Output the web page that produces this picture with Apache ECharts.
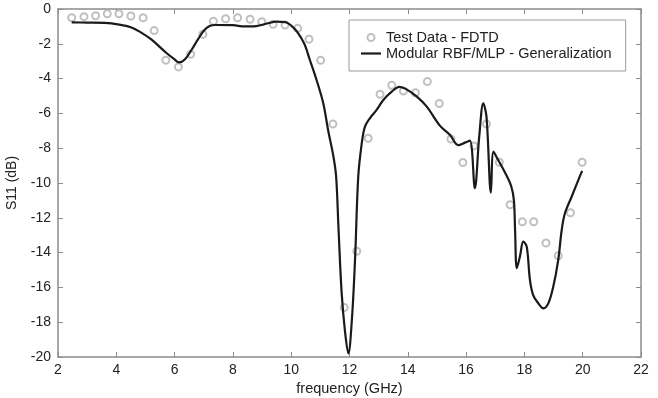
<!DOCTYPE html>
<html>
<head>
<meta charset="utf-8">
<script src="https://cdn.jsdelivr.net/npm/echarts@6/dist/echarts.min.js"></script>
<style>
html,body{margin:0;padding:0;background:#fff;}
#chart{width:658px;height:398px;}
</style>
</head>
<body>
<div id="chart"></div>
<script>
// Test data (FDTD): frequency in GHz and S11 in dB
const testFreq = [2.47,2.89,3.29,3.69,4.09,4.50,4.92,5.30,5.70,6.13,6.55,6.97,7.33,7.75,8.16,8.59,8.99,9.38,9.79,10.22,10.61,11.01,11.43,11.82,12.25,12.64,13.05,13.45,13.85,14.26,14.67,15.08,15.48,15.89,16.27,16.70,17.14,17.51,17.93,18.32,18.74,19.16,19.58,19.98];
const testS11  = [-0.50,-0.44,-0.39,-0.27,-0.27,-0.40,-0.50,-1.24,-2.94,-3.33,-2.60,-1.45,-0.71,-0.56,-0.50,-0.59,-0.73,-0.88,-0.92,-1.11,-1.74,-2.95,-6.61,-17.16,-13.92,-7.43,-4.90,-4.38,-4.71,-4.81,-4.17,-5.43,-7.47,-8.82,-7.87,-6.61,-8.81,-11.25,-12.23,-12.23,-13.45,-14.18,-11.71,-8.81];

// Modular RBF/MLP generalization curve
const modelFreq = [2.47,3.0,3.6,4.1,4.5,4.8,5.2,5.7,6.0,6.15,6.35,6.6,6.8,7.0,7.2,7.4,8.0,8.4,8.8,9.2,9.5,9.8,10.0,10.2,10.45,10.64,10.87,11.10,11.27,11.44,11.54,11.62,11.73,11.85,11.96,12.08,12.19,12.30,12.42,12.53,12.70,12.93,13.16,13.45,13.71,13.96,14.31,14.65,15.10,15.45,15.73,15.96,16.13,16.30,16.45,16.59,16.70,16.85,16.94,17.10,17.32,17.55,17.64,17.68,17.74,17.85,17.96,18.08,18.19,18.30,18.48,18.65,18.82,18.99,19.16,19.28,19.39,19.62,19.85,19.98];
const modelS11  = [-0.77,-0.78,-0.80,-0.90,-1.05,-1.30,-1.75,-2.50,-2.90,-3.07,-2.90,-2.30,-1.75,-1.25,-0.98,-0.92,-0.93,-1.00,-0.98,-0.82,-0.73,-0.75,-0.95,-1.30,-2.00,-2.93,-4.08,-5.42,-7.00,-8.40,-9.60,-12.50,-16.30,-18.60,-19.80,-17.90,-14.40,-9.64,-7.72,-6.76,-6.28,-5.80,-5.23,-4.75,-4.47,-4.62,-5.04,-5.61,-6.70,-7.24,-7.82,-7.68,-7.57,-10.30,-7.34,-5.42,-6.20,-10.55,-8.20,-8.68,-9.35,-10.20,-11.00,-12.70,-14.90,-14.20,-13.37,-13.66,-15.57,-16.44,-16.92,-17.20,-16.92,-15.96,-14.43,-12.70,-11.74,-10.79,-9.83,-9.30];

// Axis ticks
const xTicks = {min: 2, max: 22, step: 2};
const yTicks = {min: -20, max: 0, step: 2};

const testPairs = testFreq.map((f, i) => [f, testS11[i]]);
const modelPairs = modelFreq.map((f, i) => [f, modelS11[i]]);

const axisGrey = '#8c8c8c';
const font = 'Liberation Sans, Arial, sans-serif';

const chart = echarts.init(document.getElementById('chart'), null, {renderer: 'canvas'});
chart.setOption({
  animation: false,
  backgroundColor: '#fff',
  grid: {left: 58, right: 17, top: 9, bottom: 41, containLabel: false, outerBoundsMode: 'none'},
  legend: {
    orient: 'vertical',
    left: 349, top: 20,
    padding: [10, 14, 10, 12],
    borderColor: '#9a9a9a', borderWidth: 1,
    backgroundColor: '#fff',
    itemWidth: 20, itemHeight: 7, itemGap: 1,
    symbolKeepAspect: true,
    textStyle: {fontFamily: font, fontSize: 14.5, color: '#222'},
    data: [
      {name: 'Test Data - FDTD', icon: 'emptyCircle'},
      {name: 'Modular RBF/MLP - Generalization', icon: 'path://M0,0L40,0L40,4.4L0,4.4Z'}
    ]
  },
  xAxis: [{
    type: 'value', min: xTicks.min, max: xTicks.max, interval: xTicks.step,
    name: 'frequency (GHz)', nameLocation: 'middle', nameGap: 18,
    nameTextStyle: {fontFamily: font, fontSize: 14.5, color: '#222'},
    axisLine: {onZero: false, lineStyle: {color: axisGrey, width: 1.5}},
    axisTick: {inside: true, length: 5, lineStyle: {color: axisGrey}},
    axisLabel: {fontFamily: font, fontSize: 14, color: '#222', margin: 6},
    splitLine: {show: false}
  }, {
    type: 'value', position: 'top', min: xTicks.min, max: xTicks.max, interval: xTicks.step,
    axisLine: {onZero: false, lineStyle: {color: axisGrey, width: 1.5}},
    axisTick: {inside: true, length: 5, lineStyle: {color: axisGrey}},
    axisLabel: {show: false}, splitLine: {show: false}
  }],
  yAxis: [{
    type: 'value', min: yTicks.min, max: yTicks.max, interval: yTicks.step,
    name: 'S11 (dB)', nameLocation: 'middle', nameGap: 39, nameRotate: 90,
    nameTextStyle: {fontFamily: font, fontSize: 14, color: '#222'},
    axisLine: {show: true, onZero: false, lineStyle: {color: axisGrey, width: 1.5}},
    axisTick: {show: true, inside: true, length: 5, lineStyle: {color: axisGrey}},
    axisLabel: {fontFamily: font, fontSize: 14, color: '#222', margin: 7},
    splitLine: {show: false}
  }, {
    type: 'value', position: 'right', min: yTicks.min, max: yTicks.max, interval: yTicks.step,
    axisLine: {show: true, onZero: false, lineStyle: {color: axisGrey, width: 1.5}},
    axisTick: {show: true, inside: true, length: 5, lineStyle: {color: axisGrey}},
    axisLabel: {show: false}, splitLine: {show: false}
  }],
  series: [{
    name: 'Test Data - FDTD',
    type: 'scatter',
    data: testPairs,
    symbol: 'emptyCircle', symbolSize: 7,
    itemStyle: {color: '#b0b0b0', borderColor: '#b0b0b0', borderWidth: 1},
    z: 2
  }, {
    name: 'Modular RBF/MLP - Generalization',
    type: 'line',
    data: modelPairs,
    symbol: 'none',
    smooth: 0.35,
    lineStyle: {color: '#1a1a1a', width: 2.2},
    itemStyle: {color: '#1a1a1a'},
    z: 3
  }]
});
</script>
</body>
</html>
